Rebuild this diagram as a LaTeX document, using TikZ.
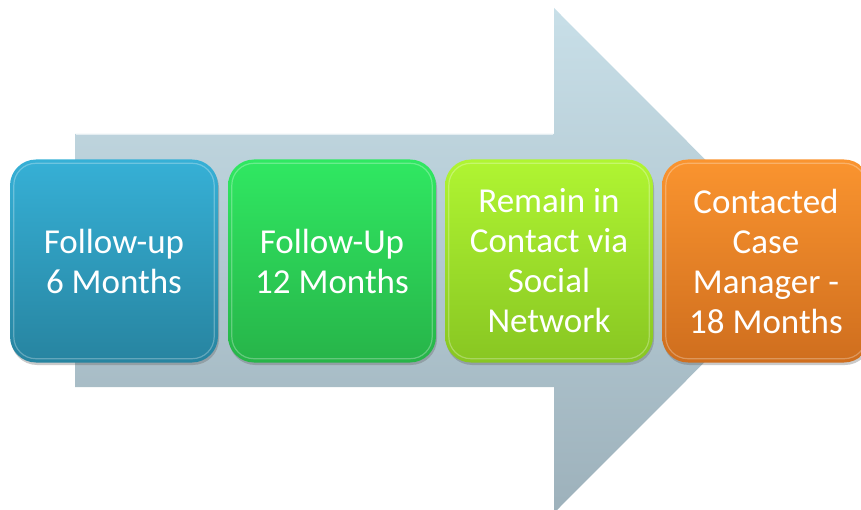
\documentclass[tikz,border=0pt]{standalone}
\usepackage{fontspec}
\setmainfont{Carlito}
\usetikzlibrary{shadows}
\definecolor{arrtop}{HTML}{C8DFE8}
\definecolor{arrbot}{HTML}{9DB1BB}
\definecolor{bluetop}{HTML}{36B0D6}
\definecolor{bluebot}{HTML}{2784A0}
\definecolor{greentop}{HTML}{30E862}
\definecolor{greenbot}{HTML}{27B449}
\definecolor{limetop}{HTML}{B0F532}
\definecolor{limebot}{HTML}{88C622}
\definecolor{orangetop}{HTML}{FA942F}
\definecolor{orangebot}{HTML}{CF6E1E}
\tikzset{
  stagebox/.style={draw=none, rounded corners=26pt, minimum width=208pt, minimum height=203pt,
    text width=204pt, align=flush center, text=white, inner sep=0pt,
    font=\fontsize{35}{40}\selectfont,
    drop shadow={shadow xshift=1pt, shadow yshift=-2.5pt, opacity=0.35, fill=black!60}},
  gloss/.style={draw=white, line width=1.2pt, opacity=0.28, rounded corners=22pt}
}
\begin{document}
\begin{tikzpicture}[x=1pt,y=-1pt]
\useasboundingbox (0,0) rectangle (861,510);
\clip (0,0) rectangle (861,510);
% big arrow
\path[top color=arrtop, bottom color=arrbot, shading angle=0]
  (75,134) -- (554,134) -- (554,8) -- (806,260.5) -- (554,513) -- (554,387) -- (75,387) -- cycle;
\draw[white, opacity=0.6, line width=1pt] (76,135) -- (553,135);
% stages
\node[stagebox, top color=bluetop, bottom color=bluebot] (b1) at (114,261) {Follow-up\\6 Months};
\node[stagebox, top color=greentop, bottom color=greenbot] (b2) at (332,261) {Follow-Up\\12 Months};
\node[stagebox, top color=limetop, bottom color=limebot] (b3) at (549,261) {Remain in\\Contact via\\Social\\Network};
\node[stagebox, top color=orangetop, bottom color=orangebot] (b4) at (766,261) {Contacted\\Case\\Manager -\\18 Months};
% glossy rims
\foreach \n in {b1,b2,b3,b4}{
  \draw[gloss] ([shift={(4pt,-4pt)}]\n.north west) rectangle ([shift={(-4pt,4pt)}]\n.south east);
}
\end{tikzpicture}
\end{document}
